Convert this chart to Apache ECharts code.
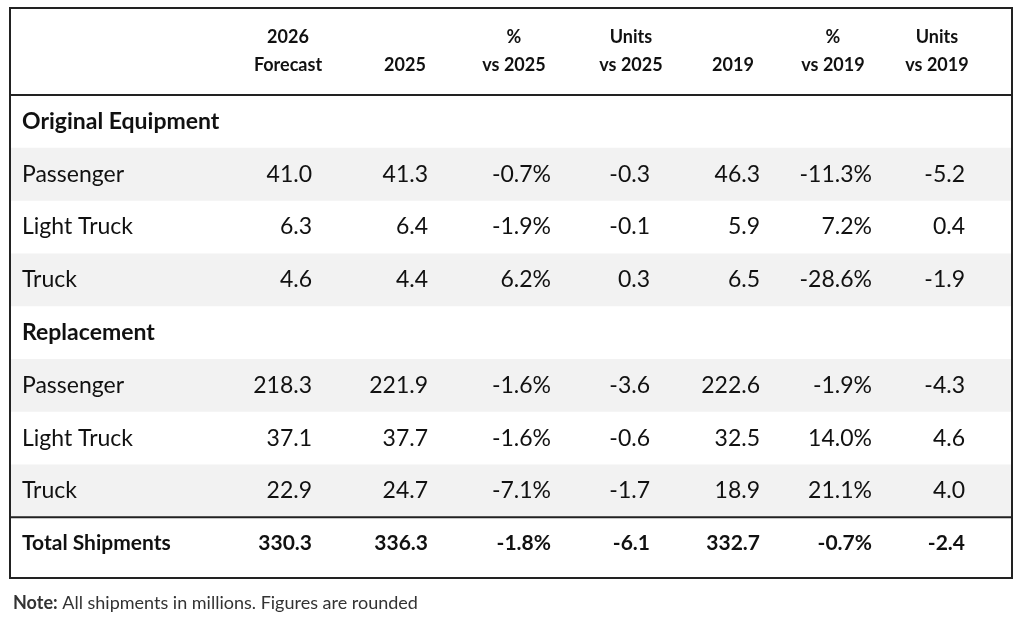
<!DOCTYPE html><html><head><meta charset="utf-8"><script src="https://cdn.jsdelivr.net/npm/echarts@6/dist/echarts.min.js"></script>
<style>html,body{margin:0;background:#fff}#c{width:1024px;height:617px}</style></head><body><div id="c"></div><script>
const headers=[['2026','Forecast'],['','2025'],['%','vs 2025'],['Units','vs 2025'],['','2019'],['%','vs 2019'],['Units','vs 2019']];
const sections=['Original Equipment','Replacement'];
const rowLabels=['Passenger','Light Truck','Truck','Passenger','Light Truck','Truck'];
const forecast2026=[41.0,6.3,4.6,218.3,37.1,22.9];
const actual2025=[41.3,6.4,4.4,221.9,37.7,24.7];
const pct2025=[-0.7,-1.9,6.2,-1.6,-1.6,-7.1];
const units2025=[-0.3,-0.1,0.3,-3.6,-0.6,-1.7];
const actual2019=[46.3,5.9,6.5,222.6,32.5,18.9];
const pct2019=[-11.3,7.2,-28.6,-1.9,14.0,21.1];
const units2019=[-5.2,0.4,-1.9,-4.3,4.6,4.0];
const totalLabel='Total Shipments';
const totalRow=[330.3,336.3,-1.8,-6.1,332.7,-0.7,-2.4];
const isPct=[false,false,true,false,false,true,false];
// layout
const colRight=[302,418,541,640,750,862,955];
const colCenter=[278,395,504,621,723,823,927];
const H0=1.65;
const f=(v,i)=>v.toFixed(1)+(isPct[i]?'%':'');
const cells=[],bg=[];
headers.forEach((h,i)=>{cells.push([colCenter[i],0.55,h[0],'center',1,18]);cells.push([colCenter[i],1.08,h[1],'center',1,18]);});
const series=[forecast2026,actual2025,pct2025,units2025,actual2019,pct2019,units2019];
let r=0;
for(let s=0;s<2;s++){
  cells.push([12,H0+r+0.5,sections[s],'left',1,23]);r++;
  for(let k=0;k<3;k++){const d=s*3+k;
    if(k!==1)bg.push([H0+r]);
    cells.push([12,H0+r+0.5,rowLabels[d],'left',0,23]);
    series.forEach((a,i)=>cells.push([colRight[i],H0+r+0.5,f(a[d],i),'right',0,23]));r++;}
}
cells.push([12,H0+r+0.5,totalLabel,'left',1,21]);
totalRow.forEach((v,i)=>cells.push([colRight[i],H0+r+0.5,f(v,i),'right',1,21]));
const lines=[[H0],[H0+8]];
const font='Lato, "DejaVu Sans", sans-serif';
const chart=echarts.init(document.getElementById('c'));
chart.setOption({animation:false,
 grid:{left:10,right:12,top:8,bottom:39,show:true,borderColor:'#222',borderWidth:2,containLabel:false},
 xAxis:{type:'value',min:0,max:1002,show:false},
 yAxis:{type:'value',min:0,max:10.8,inverse:true,show:false},
 title:{left:8,top:589,text:'{b|Note:} All shipments in millions. Figures are rounded',textStyle:{fontFamily:font,fontSize:18,fontWeight:'normal',color:'#333',rich:{b:{fontFamily:font,fontSize:18,fontWeight:'bold',color:'#333'}}}},
 series:[
 {type:'custom',data:bg,renderItem:(p,api)=>{const a=api.coord([1,api.value(0)]),b=api.coord([1001,api.value(0)+1]);return{type:'rect',shape:{x:a[0],y:a[1],width:b[0]-a[0],height:b[1]-a[1]},style:{fill:'#f2f2f2'}};}},
 {type:'custom',data:lines,renderItem:(p,api)=>{const a=api.coord([0,api.value(0)]),b=api.coord([1002,api.value(0)]);return{type:'line',shape:{x1:a[0],y1:a[1],x2:b[0],y2:b[1]},style:{stroke:'#222',lineWidth:2}};}},
 {type:'custom',data:cells,renderItem:(p,api)=>{const c=api.coord([api.value(0),api.value(1)]);const d=cells[p.dataIndex];return{type:'text',x:c[0],y:c[1],style:{text:d[2],textAlign:d[3],textVerticalAlign:'middle',fontFamily:font,fontSize:d[5],fontWeight:d[4]?'bold':'normal',fill:'#111'}};}}
 ]});
</script></body></html>
